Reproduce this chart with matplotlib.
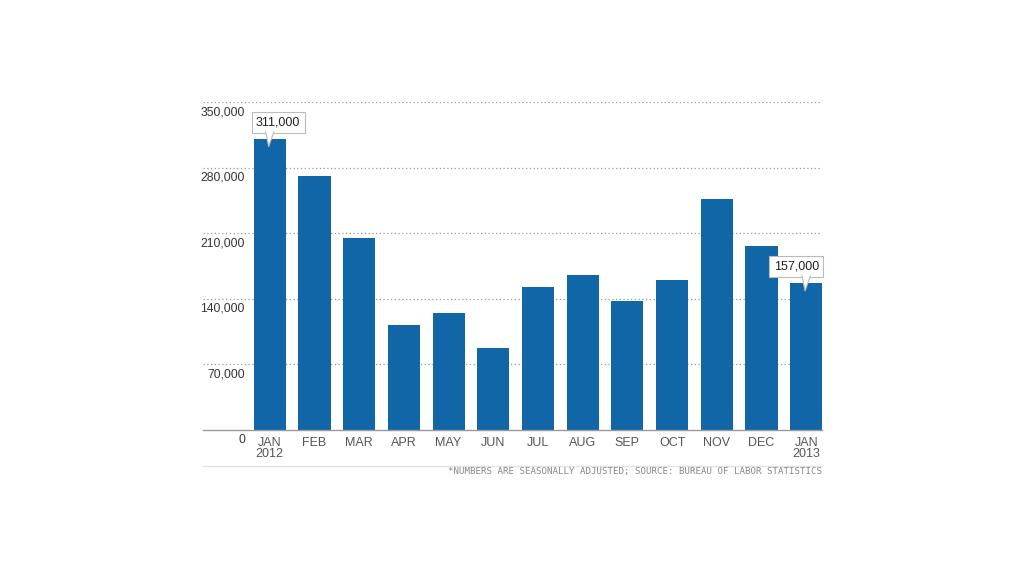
import matplotlib
matplotlib.use("Agg")
import matplotlib.pyplot as plt
from matplotlib.patches import Polygon
from matplotlib.lines import Line2D
from matplotlib.transforms import offset_copy

# Monthly job gains
months = ["JAN\n2012", "FEB", "MAR", "APR", "MAY", "JUN", "JUL", "AUG",
          "SEP", "OCT", "NOV", "DEC", "JAN\n2013"]
jobs = [311000, 271000, 205000, 112000, 125000, 87000, 153000, 165000,
        138000, 160000, 247000, 196000, 157000]
y_ticks = [0, 70000, 140000, 210000, 280000, 350000]
y_labels = ["0", "70,000", "140,000", "210,000", "280,000", "350,000"]
callouts = [(0, "311,000", 6), (12, "157,000", -7)]
footnote = "*NUMBERS ARE SEASONALLY ADJUSTED; SOURCE: BUREAU OF LABOR STATISTICS"

plt.rcParams['font.family'] = ['Liberation Sans', 'DejaVu Sans']

fig = plt.figure(figsize=(10.24, 5.76), dpi=100)
ax = fig.add_axes([0.198, 0.2535, 0.605, 0.5694])

x = list(range(len(months)))
ax.bar(x, jobs, width=0.72, color='#1166a8', zorder=3)

ax.set_xlim(-1.5, 12.36)
ax.set_ylim(0, 350000)

# dotted gridlines, labels sit just under each line
for v, lab in zip(y_ticks, y_labels):
    if v > 0:
        ax.axhline(v, color='#999999', linestyle=(0, (1, 2)), linewidth=0.9, zorder=1)
    ax.annotate(lab, xy=(0.068, v), xycoords=('axes fraction', 'data'),
                xytext=(0, -3), textcoords='offset points',
                ha='right', va='top', fontsize=8.7, color='#333333')

ax.set_yticks([])
ax.set_xticks(x)
ax.set_xticklabels(months, fontsize=9, color='#555555', linespacing=0.9)
ax.tick_params(axis='x', length=0, pad=5)

for s in ['top', 'right', 'left']:
    ax.spines[s].set_visible(False)
ax.spines['bottom'].set_color('#999999')
ax.spines['bottom'].set_linewidth(1)
ax.spines['bottom'].set_zorder(4)

# callout boxes with pointer (offsets in points from the bar top)
pad = 0.35
for i, txt, dx in callouts:
    ax.annotate(txt, xy=(i, jobs[i]), xytext=(dx, 4.3 + pad * 9),
                textcoords='offset points', ha='center', va='bottom',
                fontsize=9, color='#222222', zorder=6,
                bbox=dict(boxstyle='square,pad=%s' % pad, facecolor='white',
                          edgecolor='#bbbbbb', linewidth=0.8))
    pts = [(-3.0, 4.9), (3.0, 4.9), (-0.8, -5.8)]
    disp = [offset_copy(ax.transData, fig=fig, x=px, y=py, units='points').transform((i, jobs[i]))
            for px, py in pts]
    tri = Polygon(disp, closed=True, facecolor='white', edgecolor='none',
                  transform=None, zorder=7)
    ax.add_patch(tri)
    edge = [disp[0], disp[2], disp[1]]
    ax.add_line(Line2D([p[0] for p in edge], [p[1] for p in edge], color='#bbbbbb',
                       linewidth=0.8, transform=None, zorder=8))

# footer separator and source note
fig.add_artist(Line2D([0.198, 0.803], [0.191, 0.191], color='#e2e2e2', linewidth=1))
fig.text(0.803, 0.182, footnote, ha='right', va='center', fontsize=6.6,
         color='#888888', family='DejaVu Sans Mono')

plt.savefig("out.png", dpi=100)
